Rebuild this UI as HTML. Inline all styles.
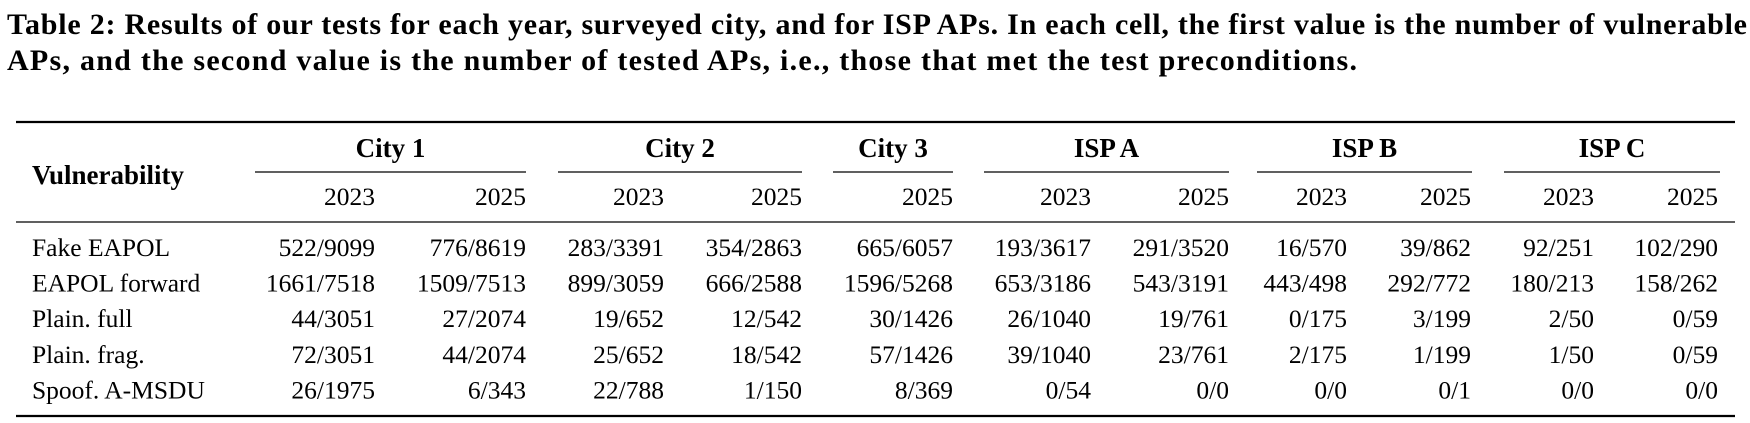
<!DOCTYPE html>
<html><head><meta charset="utf-8"><style>
html,body{margin:0;padding:0;background:#fff;}
svg{display:block;font-family:"Liberation Serif",serif;}
</style></head><body>
<svg width="1750" height="423">
<g font-weight="bold" font-size="30" fill="#000">
<text x="7" y="34" textLength="1740" lengthAdjust="spacing">Table 2: Results of our tests for each year, surveyed city, and for ISP APs. In each cell, the first value is the number of vulnerable</text>
<text x="7" y="70" textLength="1350" lengthAdjust="spacing">APs, and the second value is the number of tested APs, i.e., those that met the test preconditions.</text>
</g>
<line x1="16" x2="1735" y1="122" y2="122" stroke="#000" stroke-width="2.2"/>
<line x1="16" x2="1735" y1="222" y2="222" stroke="#000" stroke-width="1.3"/>
<line x1="16" x2="1735" y1="416" y2="416" stroke="#000" stroke-width="2.2"/>
<g id="hdr"></g>
<g id="body"></g>
<text x="32" y="184" font-weight="bold" font-size="27">Vulnerability</text>
</svg>
<script>
const groups=["City 1","City 2","City 3","ISP A","ISP B","ISP C"];
const groupSpans=[[255,526],[558,802],[833,953],[984,1229],[1257,1472],[1504,1720]];
const years=["2023","2025","2023","2025","2025","2023","2025","2023","2025","2023","2025"];
const colRight=[375,526,664,802,953,1091,1229,1347,1471,1594,1718];
const rowLabels=["Fake EAPOL","EAPOL forward","Plain. full","Plain. frag.","Spoof. A-MSDU"];
const rowData=[
["522/9099","776/8619","283/3391","354/2863","665/6057","193/3617","291/3520","16/570","39/862","92/251","102/290"],
["1661/7518","1509/7513","899/3059","666/2588","1596/5268","653/3186","543/3191","443/498","292/772","180/213","158/262"],
["44/3051","27/2074","19/652","12/542","30/1426","26/1040","19/761","0/175","3/199","2/50","0/59"],
["72/3051","44/2074","25/652","18/542","57/1426","39/1040","23/761","2/175","1/199","1/50","0/59"],
["26/1975","6/343","22/788","1/150","8/369","0/54","0/0","0/0","0/1","0/0","0/0"]];
const NS="http://www.w3.org/2000/svg";
const hdr=document.getElementById('hdr'),body=document.getElementById('body');
function t(parent,x,y,s,anchor,bold){const e=document.createElementNS(NS,'text');e.setAttribute('x',x);e.setAttribute('y',y);e.setAttribute('font-size',bold?27:25.5);if(bold)e.setAttribute('font-weight','bold');e.setAttribute('text-anchor',anchor);e.textContent=s;parent.appendChild(e);return e;}
groups.forEach((g,i)=>{const [a,b]=groupSpans[i];
const e=t(hdr,(a+b)/2,157,g,'middle',true);


const l=document.createElementNS(NS,'line');l.setAttribute('x1',a);l.setAttribute('x2',b);l.setAttribute('y1',172);l.setAttribute('y2',172);l.setAttribute('stroke','#000');l.setAttribute('stroke-width','1.2');


hdr.appendChild(l);});
years.forEach((y,i)=>{const e=t(hdr,colRight[i],205,y,'end',false);

});
rowLabels.forEach((r,ri)=>{const yy=256+ri*35.6;
const e=t(body,32,yy,r,'start',false);


rowData[ri].forEach((v,ci)=>{const c=t(body,colRight[ci],yy,v,'end',false);

});});
</script>
</body></html>
